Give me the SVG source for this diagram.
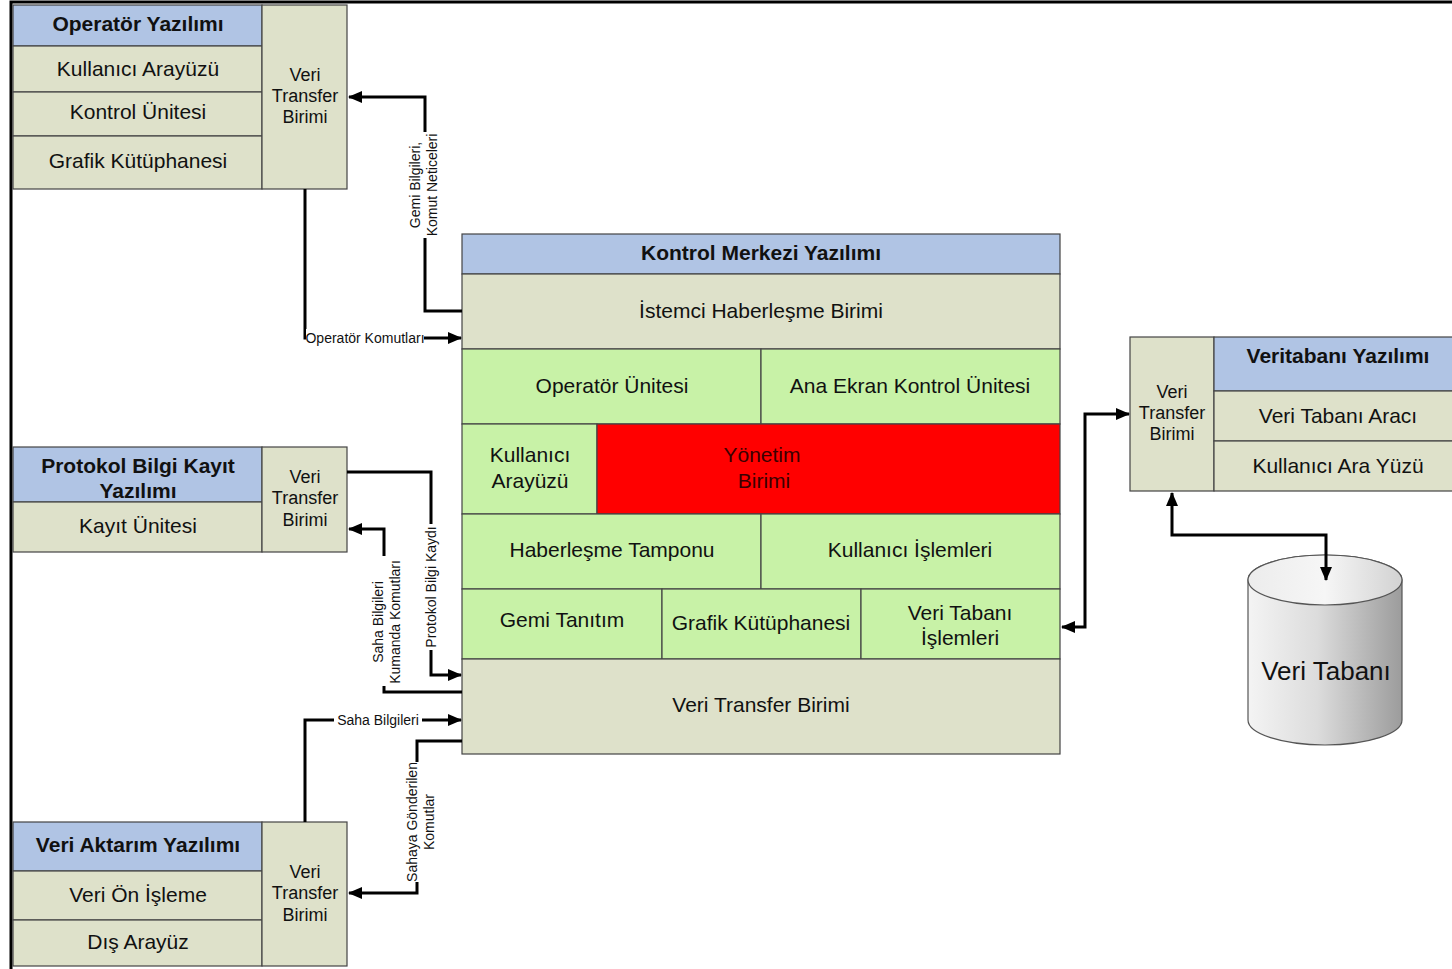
<svg xmlns="http://www.w3.org/2000/svg" width="1452" height="969" viewBox="0 0 1452 969">
  <defs>
    <marker id="arrow" viewBox="0 0 14 12" refX="13" refY="6" markerWidth="14" markerHeight="12" markerUnits="userSpaceOnUse" orient="auto-start-reverse">
      <path d="M0,0 L14,6 L0,12 Z" fill="#000"/>
    </marker>
    <linearGradient id="cylBody" x1="0" y1="0" x2="1" y2="0">
      <stop offset="0" stop-color="#f4f4f4"/>
      <stop offset="0.45" stop-color="#dcdcdc"/>
      <stop offset="1" stop-color="#9c9c9c"/>
    </linearGradient>
    <linearGradient id="cylTop" x1="0" y1="0" x2="1" y2="0">
      <stop offset="0" stop-color="#ececec"/>
      <stop offset="0.5" stop-color="#f6f6f6"/>
      <stop offset="1" stop-color="#d2d2d2"/>
    </linearGradient>
    <style>
      .hdr { fill: #b0c4e4; stroke: #444; stroke-width: 1.2; }
      .gray { fill: #dee1ca; stroke: #444; stroke-width: 1.2; }
      .green { fill: #c8f2a7; stroke: #444; stroke-width: 1.2; }
      .red { fill: #ff0000; stroke: #444; stroke-width: 1.2; }
      text { font-family: "Liberation Sans", Arial, sans-serif; fill: #111; text-anchor: middle; }
      .t { font-size: 21px; }
      .b { font-size: 21px; font-weight: bold; }
      .v { font-size: 18px; }
      .lbl { font-size: 14px; }
      .db { font-size: 26px; }
      .wire { fill: none; stroke: #000; stroke-width: 3; }
      .mask { fill: #fff; }
    </style>
  </defs>

  <rect x="0" y="0" width="1452" height="969" fill="#fff"/>
  <!-- page frame -->
  <path d="M11,969 V2 H1452" fill="none" stroke="#000" stroke-width="3"/>

  <!-- Operatör Yazılımı -->
  <g id="operator">
    <rect class="hdr" x="13" y="5" width="249" height="41"/>
    <rect class="gray" x="13" y="46" width="249" height="46"/>
    <rect class="gray" x="13" y="92" width="249" height="44"/>
    <rect class="gray" x="13" y="136" width="249" height="53"/>
    <rect class="gray" x="262" y="5" width="85" height="184"/>
    <text class="b" x="138" y="31">Operatör Yazılımı</text>
    <text class="t" x="138" y="76">Kullanıcı Arayüzü</text>
    <text class="t" x="138" y="119">Kontrol Ünitesi</text>
    <text class="t" x="138" y="168">Grafik Kütüphanesi</text>
    <text class="v" x="305" y="81">Veri</text>
    <text class="v" x="305" y="102">Transfer</text>
    <text class="v" x="305" y="123">Birimi</text>
  </g>

  <!-- Protokol Bilgi Kayıt Yazılımı -->
  <g id="protokol">
    <rect class="hdr" x="13" y="447" width="249" height="55"/>
    <rect class="gray" x="13" y="502" width="249" height="50"/>
    <rect class="gray" x="262" y="447" width="85" height="105"/>
    <text class="b" x="138" y="473">Protokol Bilgi Kayıt</text>
    <text class="b" x="138" y="498">Yazılımı</text>
    <text class="t" x="138" y="533">Kayıt Ünitesi</text>
    <text class="v" x="305" y="483">Veri</text>
    <text class="v" x="305" y="504">Transfer</text>
    <text class="v" x="305" y="526">Birimi</text>
  </g>

  <!-- Veri Aktarım Yazılımı -->
  <g id="aktarim">
    <rect class="hdr" x="13" y="822" width="249" height="49"/>
    <rect class="gray" x="13" y="871" width="249" height="49"/>
    <rect class="gray" x="13" y="920" width="249" height="46"/>
    <rect class="gray" x="262" y="822" width="85" height="144"/>
    <text class="b" x="138" y="852">Veri Aktarım Yazılımı</text>
    <text class="t" x="138" y="902">Veri Ön İşleme</text>
    <text class="t" x="138" y="949">Dış Arayüz</text>
    <text class="v" x="305" y="878">Veri</text>
    <text class="v" x="305" y="899">Transfer</text>
    <text class="v" x="305" y="921">Birimi</text>
  </g>

  <!-- Kontrol Merkezi Yazılımı -->
  <g id="kontrol-merkezi">
    <rect class="hdr" x="462" y="234" width="598" height="40"/>
    <rect class="gray" x="462" y="274" width="598" height="75"/>
    <rect class="green" x="462" y="349" width="299" height="75"/>
    <rect class="green" x="761" y="349" width="299" height="75"/>
    <rect class="green" x="462" y="424" width="135" height="90"/>
    <rect class="red" x="597" y="424" width="463" height="90"/>
    <rect class="green" x="462" y="514" width="299" height="75"/>
    <rect class="green" x="761" y="514" width="299" height="75"/>
    <rect class="green" x="462" y="589" width="200" height="70"/>
    <rect class="green" x="662" y="589" width="199" height="70"/>
    <rect class="green" x="861" y="589" width="199" height="70"/>
    <rect class="gray" x="462" y="659" width="598" height="95"/>
    <text class="b" x="761" y="260">Kontrol Merkezi Yazılımı</text>
    <text class="t" x="761" y="318">İstemci Haberleşme Birimi</text>
    <text class="t" x="612" y="393">Operatör Ünitesi</text>
    <text class="t" x="910" y="393">Ana Ekran Kontrol Ünitesi</text>
    <text class="t" x="530" y="462">Kullanıcı</text>
    <text class="t" x="530" y="488">Arayüzü</text>
    <text class="t" x="762" y="462" style="fill:#3a0000">Yönetim</text>
    <text class="t" x="764" y="488" style="fill:#3a0000">Birimi</text>
    <text class="t" x="612" y="557">Haberleşme Tamponu</text>
    <text class="t" x="910" y="557">Kullanıcı İşlemleri</text>
    <text class="t" x="562" y="627">Gemi Tanıtım</text>
    <text class="t" x="761" y="630">Grafik Kütüphanesi</text>
    <text class="t" x="960" y="620">Veri Tabanı</text>
    <text class="t" x="960" y="645">İşlemleri</text>
    <text class="t" x="761" y="712">Veri Transfer Birimi</text>
  </g>

  <!-- Veritabanı Yazılımı -->
  <g id="veritabani">
    <rect class="gray" x="1130" y="337" width="84" height="154"/>
    <rect class="hdr" x="1214" y="337" width="240" height="54"/>
    <rect class="gray" x="1214" y="391" width="240" height="50"/>
    <rect class="gray" x="1214" y="441" width="240" height="50"/>
    <text class="b" x="1338" y="363">Veritabanı Yazılımı</text>
    <text class="t" x="1338" y="423">Veri Tabanı Aracı</text>
    <text class="t" x="1338" y="473">Kullanıcı Ara Yüzü</text>
    <text class="v" x="1172" y="398">Veri</text>
    <text class="v" x="1172" y="419">Transfer</text>
    <text class="v" x="1172" y="440">Birimi</text>
  </g>

  <!-- Veri Tabanı cylinder -->
  <g id="veri-tabani">
    <path d="M1248,580 A77,25 0 0 1 1402,580 V720 A77,25 0 0 1 1248,720 Z" fill="url(#cylBody)" stroke="#555" stroke-width="1.2"/>
    <ellipse cx="1325" cy="580" rx="77" ry="25" fill="url(#cylTop)" stroke="#555" stroke-width="1.2"/>
    <text class="db" x="1326" y="680">Veri Tabanı</text>
  </g>

  <!-- connectors -->
  <g id="connectors">
    <path class="wire" d="M462,311 H425 V97 H349" marker-end="url(#arrow)"/>
    <path class="wire" d="M305,189 V338 H461" marker-end="url(#arrow)"/>
    <path class="wire" d="M347,472 H431 V675 H461" marker-end="url(#arrow)"/>
    <path class="wire" d="M462,692 H384 V529 H349" marker-end="url(#arrow)"/>
    <path class="wire" d="M305,822 V720 H461" marker-end="url(#arrow)"/>
    <path class="wire" d="M462,741 H417 V893 H349" marker-end="url(#arrow)"/>
    <path class="wire" d="M1062,627 H1085 V414 H1129" marker-start="url(#arrow)" marker-end="url(#arrow)"/>
    <path class="wire" d="M1172,493 V535 H1326 V580" marker-start="url(#arrow)" marker-end="url(#arrow)"/>

    <!-- connector labels -->
    <rect class="mask" x="407" y="132" width="34" height="106"/>
    <text class="lbl" transform="translate(424,185) rotate(-90)"><tspan x="0" y="-4">Gemi Bilgileri,</tspan><tspan x="0" y="13">Komut Neticeleri</tspan></text>

    <rect class="mask" x="306" y="329" width="118" height="17"/>
    <text class="lbl" x="365" y="343">Operatör Komutları</text>

    <rect class="mask" x="422" y="524" width="18" height="126"/>
    <text class="lbl" transform="translate(431,587) rotate(-90)" y="5">Protokol Bilgi Kaydı</text>

    <rect class="mask" x="370" y="556" width="33" height="130"/>
    <text class="lbl" transform="translate(386,622) rotate(-90)"><tspan x="0" y="-3">Saha Bilgileri</tspan><tspan x="0" y="14">Kumanda Komutları</tspan></text>

    <rect class="mask" x="334" y="711" width="88" height="17"/>
    <text class="lbl" x="378" y="725">Saha Bilgileri</text>

    <rect class="mask" x="403" y="762" width="34" height="120"/>
    <text class="lbl" transform="translate(420,822) rotate(-90)"><tspan x="0" y="-3">Sahaya Gönderilen</tspan><tspan x="0" y="14">Komutlar</tspan></text>
  </g>
</svg>
